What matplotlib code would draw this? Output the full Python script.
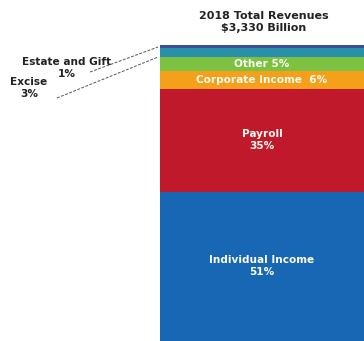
import matplotlib
matplotlib.use("Agg")
import matplotlib.pyplot as plt
from matplotlib.lines import Line2D

categories = ["Individual Income", "Payroll", "Corporate Income", "Other", "Excise", "Estate and Gift"]
values = [51, 35, 6, 5, 3, 1]
colors = ["#1767b4", "#c0192c", "#f5a01a", "#7dc142", "#2a8fa8", "#3d4f9c"]
inside_labels = ["Individual Income\n51%", "Payroll\n35%", "Corporate Income  6%", "Other 5%", None, None]
title_text = "2018 Total Revenues\n$3,330 Billion"

W, H = 364, 341
fig = plt.figure(figsize=(W / 100, H / 100), dpi=100)
fig.patch.set_facecolor("white")

ax = fig.add_axes([160 / W, 0, 1 - 160 / W, 1 - 45 / H])
bottom = 0
for cat, v, c, lab in zip(categories, values, colors, inside_labels):
    ax.bar(0, v, bottom=bottom, width=1.0, color=c, edgecolor="none")
    if lab:
        ax.text(0, bottom + v / 2, lab, ha="center", va="center", color="#fbfbf0",
                fontsize=7.6, fontweight="bold", linespacing=1.3)
    bottom += v
ax.set_xlim(-0.5, 0.5)
ax.set_ylim(0, sum(values))
ax.axis("off")

def fx(x):
    return x / W

def fy(y):
    return 1 - y / H

fig.text(fx(264), fy(22), title_text, ha="center", va="center", fontsize=8,
         fontweight="bold", color="#222222", linespacing=1.2)

fig.text(fx(67), fy(68), "Estate and Gift\n1%", ha="center", va="center", fontsize=7.6,
         fontweight="bold", color="#222222", linespacing=1.2)
fig.text(fx(29), fy(88), "Excise\n3%", ha="center", va="center", fontsize=7.6,
         fontweight="bold", color="#222222", linespacing=1.2)

fig.add_artist(Line2D([fx(90), fx(158)], [fy(72), fy(47)], transform=fig.transFigure,
                      color="#555555", lw=0.7, ls=(0, (3, 1.5))))
fig.add_artist(Line2D([fx(57), fx(158)], [fy(98), fy(57)], transform=fig.transFigure,
                      color="#555555", lw=0.7, ls=(0, (3, 1.5))))

fig.savefig("out.png", dpi=100)
